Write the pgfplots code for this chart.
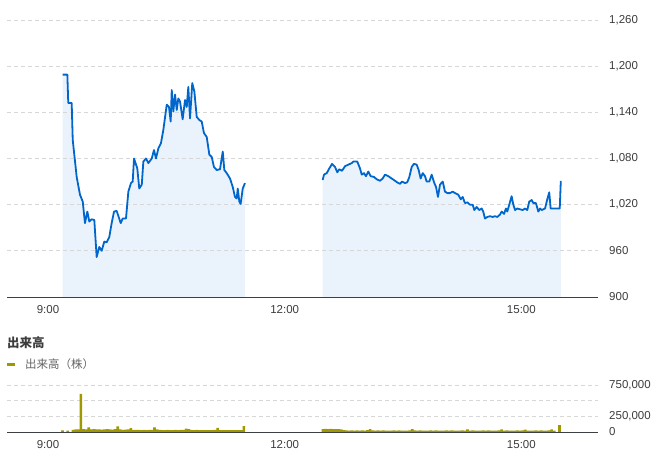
\documentclass[border=0pt]{standalone}
\usepackage{fontspec}
\setmainfont{Liberation Sans}
\newfontfamily\cjk{Noto Sans CJK JP}
\usepackage{pgfplots}
\usepackage{pgfplotstable}
\pgfplotsset{compat=1.18}

\definecolor{linec}{RGB}{0,102,204}
\definecolor{fillc}{RGB}{234,243,251}
\definecolor{volc}{RGB}{160,152,0}
\definecolor{gridc}{RGB}{215,215,215}
\definecolor{axc}{RGB}{60,64,67}
\definecolor{txtc}{RGB}{60,60,60}
\definecolor{legc}{RGB}{100,100,100}

% minutes after 9:00, price
\pgfplotstableread{
x y
11.2 1189
14.7 1189
15.4 1152
18.0 1152
18.8 1104
21.8 1056
24.3 1033
26.4 1024
28.1 996
29.9 1011
31.4 998
33.2 1001
35.2 1000
37.0 952
39.0 965
40.8 960
42.8 972
44.6 971
46.6 978
48.4 996
50.2 1011
52.2 1012
55.3 996
56.8 1002
59.3 1002
61.1 1037
63.1 1048
64.4 1050
65.4 1080
67.9 1067
69.4 1041
71.3 1046
72.5 1076
74.5 1080
76.3 1074
78.9 1080
80.6 1091
82.1 1080
83.9 1093
85.9 1100
87.7 1117
90.3 1150
92.0 1147
93.3 1128
94.1 1169
95.3 1141
96.6 1163
97.9 1143
99.1 1158
100.4 1154
102.4 1131
104.2 1156
105.5 1147
106.7 1173
108.0 1132
109.7 1178
111.3 1167
113.1 1134
115.1 1130
116.9 1128
118.6 1113
120.7 1108
122.7 1085
124.5 1082
126.2 1069
128.3 1065
130.8 1066
132.9 1089
134.1 1065
135.9 1061
138.4 1054
140.5 1043
142.2 1030
143.5 1028
144.3 1041
145.5 1024
146.5 1021
148.1 1041
149.8 1048
}\morning

\pgfplotstableread{
x y
208.9 1052
209.9 1059
212.0 1061
213.9 1067
216.0 1073
218.3 1069
220.0 1062
221.5 1066
223.6 1064
225.9 1070
228.4 1072
231.0 1074
232.2 1076
235.2 1076
237.3 1067
238.6 1059
240.3 1061
241.8 1057
243.6 1063
245.4 1057
247.9 1056
250.0 1053
252.5 1051
254.5 1054
256.3 1059
258.8 1057
261.4 1054
263.9 1051
265.6 1049
267.7 1047
269.2 1050
271.5 1048
273.2 1049
274.8 1056
276.6 1069
278.3 1073
280.4 1072
281.9 1065
283.4 1054
285.0 1061
286.7 1057
288.0 1050
290.0 1050
291.8 1059
293.6 1049
295.1 1043
296.6 1030
298.1 1046
300.2 1050
301.9 1037
303.7 1035
305.7 1035
307.8 1037
309.5 1035
312.0 1033
313.9 1027
315.4 1030
317.1 1022
318.9 1023
320.9 1020
323.0 1020
324.2 1013
326.0 1017
328.0 1013
329.8 1015
331.0 1011
332.3 1002
334.1 1004
336.1 1005
338.2 1004
339.9 1005
341.7 1004
343.7 1007
345.0 1011
346.8 1008
348.3 1015
349.3 1011
350.8 1020
352.6 1031
353.9 1020
355.2 1013
356.9 1015
359.0 1014
361.0 1013
362.8 1015
364.5 1013
366.0 1024
367.9 1026
369.1 1022
371.1 1022
372.9 1011
374.2 1015
375.5 1013
378.0 1015
379.7 1027
381.2 1036
382.3 1015
386.9 1015
389.2 1015
390.0 1051
}\afternoon

\pgfplotstableread{
x v
11 25000
15 20000
19 35000
21 40000
23 40000
25 610000
27 45000
29 40000
31 75000
33 40000
35 45000
37 40000
39 42000
41 38000
43 40000
45 45000
47 40000
49 38000
51 45000
53 90000
55 40000
57 35000
59 38000
61 40000
63 60000
65 35000
67 35000
69 32000
71 30000
73 33000
75 30000
77 32000
79 35000
81 75000
83 40000
85 32000
87 30000
89 30000
91 33000
93 30000
95 30000
97 32000
99 30000
101 33000
103 35000
105 55000
107 45000
109 35000
111 30000
113 32000
115 30000
117 28000
119 30000
121 30000
123 28000
125 30000
127 35000
129 65000
131 30000
133 28000
135 30000
137 28000
139 30000
141 28000
143 30000
145 28000
147 30000
149 95000
209 45000
211 48000
213 45000
215 50000
217 45000
219 47000
221 45000
223 42000
225 28000
227 25000
229 22000
231 25000
233 22000
235 24000
237 22000
239 25000
241 22000
243 28000
245 45000
247 25000
249 22000
251 24000
253 22000
255 25000
257 22000
259 23000
261 22000
263 25000
265 22000
267 24000
269 22000
271 23000
273 22000
275 25000
277 45000
279 25000
281 22000
283 24000
285 22000
287 23000
289 22000
291 25000
293 22000
295 24000
297 22000
299 23000
301 22000
303 25000
305 22000
307 24000
309 22000
311 23000
313 22000
315 25000
317 22000
319 40000
321 22000
323 24000
325 22000
327 23000
329 22000
331 25000
333 22000
335 24000
337 22000
339 23000
341 22000
343 25000
345 40000
347 22000
349 24000
351 22000
353 23000
355 22000
357 25000
359 22000
361 24000
363 38000
365 22000
367 23000
369 22000
371 25000
373 22000
375 24000
377 22000
379 23000
381 25000
383 40000
385 20000
389 110000
}\volume

\pgfplotsset{
  commonstyle/.style={
    scale only axis,
    width=591bp,
    xmin=-31.2, xmax=418.3,
    axis x line*=bottom,
    axis y line*=right,
    y axis line style={draw=none},
    x axis line style={draw=axc, line width=0.9bp},
    major tick length=0pt,
    xtick={0,180,360},
    xticklabels={9:00,12:00,15:00},
    ticklabel style={font=\fontsize{11.5bp}{13bp}\selectfont, text=txtc},
    xticklabel style={anchor=north, inner sep=0pt, yshift=-8.5bp},
    yticklabel style={anchor=west, inner sep=0pt, xshift=11bp},
    ymajorgrids,
    grid style={gridc, line width=0.7bp, dash pattern=on 4bp off 3bp},
    /pgf/number format/assume math mode=true,
    /pgf/number format/1000 sep={,},
    scaled y ticks=false,
    clip=true,
  }
}

\begin{document}
\begin{tikzpicture}[x=1bp,y=1bp]

\begin{axis}[
  commonstyle,
  set layers,
  at={(7bp,164bp)}, anchor=south west,
  height=297bp,
  ymin=900, ymax=1286,
  ytick={900,960,1020,1080,1140,1200,1260},
]
\addplot[fill=fillc, draw=none, on layer=axis background] table[x=x,y=y] {\morning} \closedcycle;
\addplot[fill=fillc, draw=none, on layer=axis background] table[x=x,y=y] {\afternoon} \closedcycle;
\addplot[linec, line width=1.8bp, line join=round] table[x=x,y=y] {\morning};
\addplot[linec, line width=1.8bp, line join=round] table[x=x,y=y] {\afternoon};
\end{axis}

\begin{axis}[
  commonstyle,
  at={(7bp,29bp)}, anchor=south west,
  height=47bp,
  ymin=0, ymax=750000,
  ytick={0,250000,500000,750000},
  yticklabels={0,{250,000},{},{750,000}},
]
\addplot[ybar, bar width=2, bar shift=0pt, fill=volc, draw=none] table[x=x,y=v] {\volume};
\end{axis}

\node[anchor=west, inner sep=0pt, text=txtc, font=\cjk\bfseries\fontsize{12.5bp}{14bp}\selectfont] at (7,118) {出来高};
\draw[volc, line width=2.5bp] (7,96.7) -- (15,96.7);
\node[anchor=west, inner sep=0pt, text=legc, font=\cjk\fontsize{11.5bp}{13bp}\selectfont] at (25,96.7) {出来高（株）};
\pgfresetboundingbox
\useasboundingbox (0,0) rectangle (663,461);
\end{tikzpicture}
\end{document}
